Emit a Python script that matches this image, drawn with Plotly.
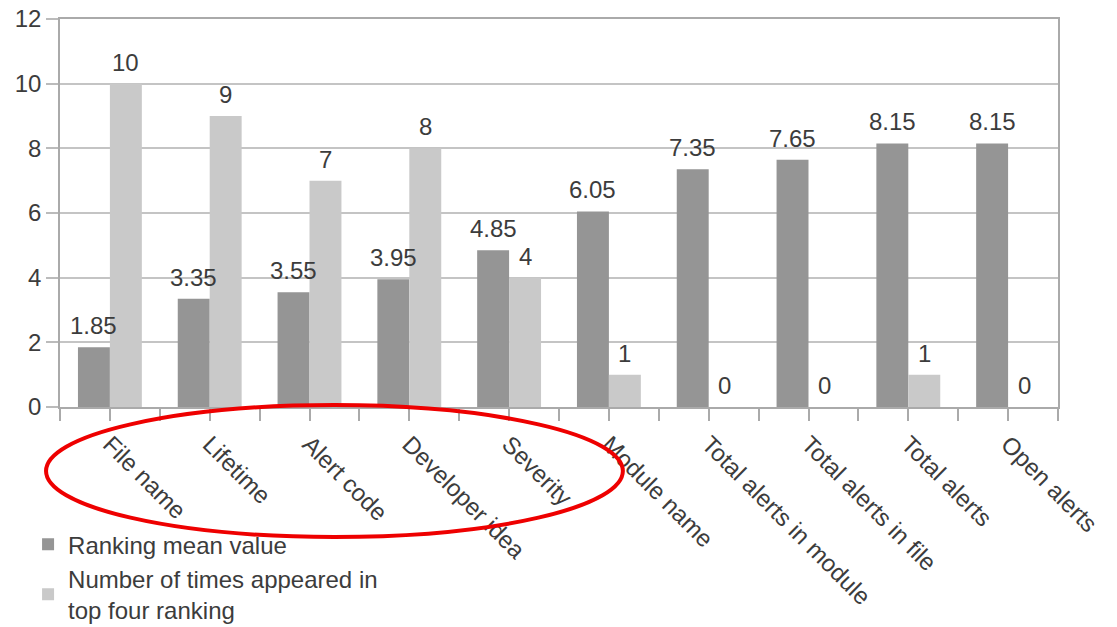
import plotly.graph_objects as go

categories = ["File name", "Lifetime", "Alert code", "Developer idea", "Severity",
              "Module name", "Total alerts in module", "Total alerts in file",
              "Total alerts", "Open alerts"]
ranking_mean = [1.85, 3.35, 3.55, 3.95, 4.85, 6.05, 7.35, 7.65, 8.15, 8.15]
top_four_count = [10, 9, 7, 8, 4, 1, 0, 0, 1, 0]
mean_labels = ["1.85", "3.35", "3.55", "3.95", "4.85", "6.05", "7.35", "7.65", "8.15", "8.15"]
count_labels = [str(v) for v in top_four_count]
series_names = ["Ranking mean value", "Number of times appeared in<br>top four ranking"]
y_ticks = [0, 2, 4, 6, 8, 10, 12]

DARK = "#959595"
LIGHT = "#c9c9c9"
TXT = "#3c3c3c"
FONT = "Liberation Sans, Arial, sans-serif"

xs = list(range(len(categories)))

fig = go.Figure()
fig.add_trace(go.Bar(x=xs, y=ranking_mean, name=series_names[0],
                     marker=dict(color=DARK, line=dict(width=0))))
fig.add_trace(go.Bar(x=xs, y=top_four_count, name=series_names[1],
                     marker=dict(color=LIGHT, line=dict(width=0))))

bargap = 0.36
half = (1 - bargap) / 4
annotations = []
for i in xs:
    annotations.append(dict(x=i - half, y=ranking_mean[i], text=mean_labels[i],
                            xref="x", yref="y", showarrow=False, yanchor="bottom",
                            yshift=6, font=dict(size=24, color=TXT, family=FONT)))
    annotations.append(dict(x=i + half, y=top_four_count[i], text=count_labels[i],
                            xref="x", yref="y", showarrow=False, yanchor="bottom",
                            yshift=6, font=dict(size=24, color=TXT, family=FONT)))

fig.update_layout(
    width=1117, height=627,
    margin=dict(l=60, r=59, t=19, b=220, autoexpand=False),
    paper_bgcolor="white", plot_bgcolor="white",
    barmode="group", bargap=bargap, bargroupgap=0,
    font=dict(family=FONT, size=24, color=TXT),
    annotations=annotations,
    legend=dict(x=-0.032, y=-0.297, xanchor="left", yanchor="top",
                font=dict(size=24, color=TXT, family=FONT),
                bgcolor="rgba(0,0,0,0)", tracegroupgap=0, itemwidth=30),
    shapes=[dict(type="circle", xref="paper", yref="paper",
                 x0=-0.014, x1=0.564, y0=-0.335, y1=0.005,
                 line=dict(color="#ee0000", width=4), layer="above")],
)
fig.update_xaxes(
    range=[-0.5, len(categories) - 0.5], automargin=False,
    tickmode="array", tickvals=xs, ticktext=categories, tickangle=45,
    ticks="outside", ticklen=12, tickcolor="#aaaaaa", tickwidth=1.5,
    minor=dict(ticks="outside", tickmode="array",
               tickvals=[i - 0.5 for i in range(len(categories) + 1)],
               ticklen=12, tickcolor="#aaaaaa", tickwidth=1.5, showgrid=False),
    showgrid=False, showline=True, linecolor="#aaaaaa", linewidth=1.5,
    mirror=True, zeroline=False,
    tickfont=dict(size=24, color=TXT, family=FONT),
)
fig.update_yaxes(
    range=[0, 12], tickmode="array", tickvals=y_ticks, automargin=False,
    ticks="outside", ticklen=12, tickcolor="#bbbbbb", tickwidth=1.5,
    showgrid=True, gridcolor="#c4c4c4", gridwidth=1.5,
    showline=True, linecolor="#aaaaaa", linewidth=1.5, mirror=True,
    zeroline=False, tickfont=dict(size=24, color=TXT, family=FONT),
)

fig.write_html("out.html")
